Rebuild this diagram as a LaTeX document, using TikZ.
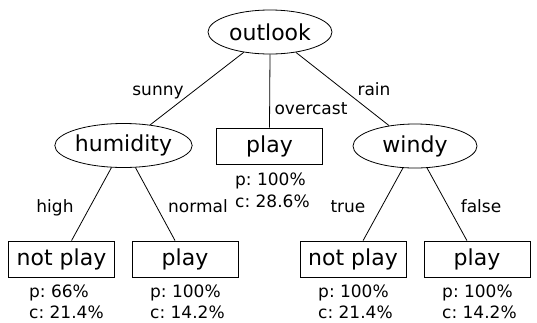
\documentclass[tikz,border=0pt]{standalone}
\usepackage{fontspec}
\setmainfont{DejaVu Sans}
\usetikzlibrary{shapes.geometric}
\begin{document}
\frenchspacing
\begin{tikzpicture}[x=1pt,y=-1pt,
  test/.style={ellipse,draw,line width=0.8pt,minimum width=124pt,minimum height=44pt,inner sep=0pt,font=\fontsize{22}{26}\selectfont},
  leaf/.style={rectangle,draw,line width=0.8pt,minimum width=106pt,minimum height=36pt,inner sep=0pt,font=\fontsize{22}{26}\selectfont},
  edgelbl/.style={anchor=base,inner sep=0pt,font=\fontsize{17}{20}\selectfont},
  stat/.style={anchor=base west,inner sep=0pt,font=\fontsize{17}{20}\selectfont\frenchspacing},
  branch/.style={line width=0.8pt}]
\useasboundingbox (0,0) rectangle (537,322);

% decision nodes
\node[test] (outlook) at (270,32) {outlook};
\node[test] (humidity) at (123.5,145.5) {humidity};
\node[test] (windy) at (415,146) {windy};

% leaves
\node[leaf] (over) at (269.5,146) {play};
\node[leaf] (hnp) at (61.5,259) {not play};
\node[leaf] (hp) at (185,259) {play};
\node[leaf] (wnp) at (353,259) {not play};
\node[leaf] (wp) at (477,259) {play};

% branches
\draw[branch] (outlook) -- (humidity);
\draw[branch] (outlook.south) -- (over.north);
\draw[branch] (outlook) -- (windy);
\draw[branch] (humidity) -- (hnp);
\draw[branch] (humidity) -- (hp);
\draw[branch] (windy) -- (wnp);
\draw[branch] (windy) -- (wp);

% branch labels
\node[edgelbl] (lsunny) at (158,95) {sunny};
\node[edgelbl] (lovercast) at (311,114) {overcast};
\node[edgelbl] (lrain) at (374,95) {rain};
\node[edgelbl] (lhigh) at (55,212) {high};
\node[edgelbl] (lnormal) at (198,212) {normal};
\node[edgelbl] (ltrue) at (348,212) {true};
\node[edgelbl] (lfalse) at (481,212) {false};

% leaf statistics
\node[stat] (p0) at (235,185) {p: 100\%};
\node[stat] (c0) at (235,207) {c: 28.6\%};
\node[stat] (p1) at (29,297) {p: 66\%};
\node[stat] (c1) at (29,318.5) {c: 21.4\%};
\node[stat] (p2) at (150,297) {p: 100\%};
\node[stat] (c2) at (150,318.5) {c: 14.2\%};
\node[stat] (p3) at (318,297) {p: 100\%};
\node[stat] (c3) at (318,318.5) {c: 21.4\%};
\node[stat] (p4) at (442,297) {p: 100\%};
\node[stat] (c4) at (442,318.5) {c: 14.2\%};
\end{tikzpicture}
\end{document}
